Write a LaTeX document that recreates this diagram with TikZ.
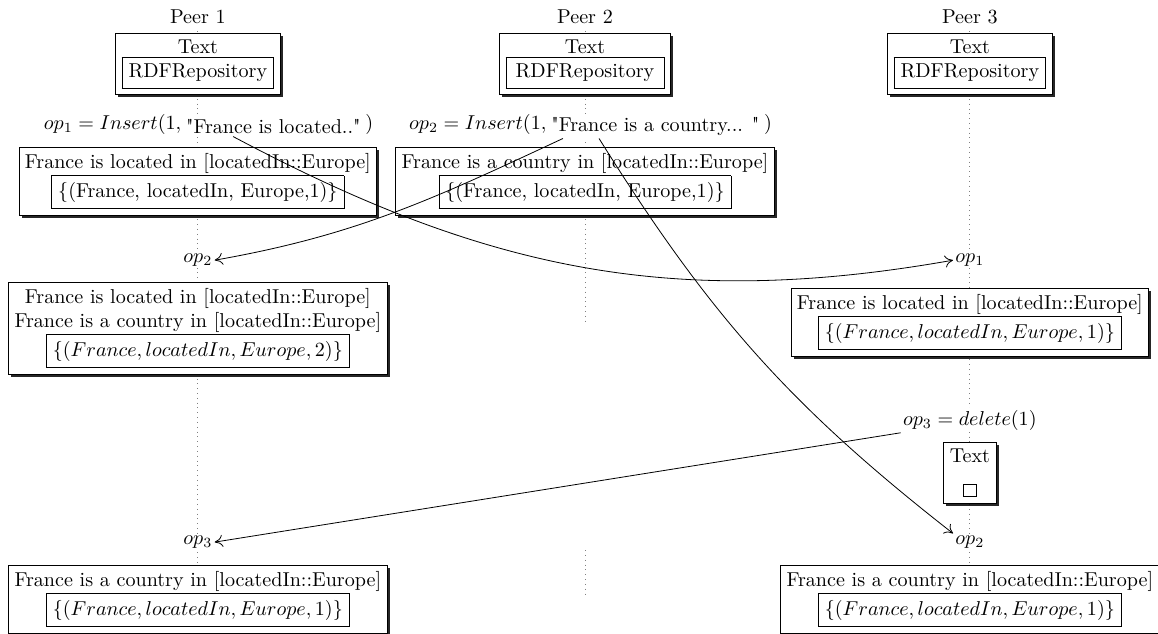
\documentclass[tikz,border=0pt]{standalone}
\usetikzlibrary{arrows.meta,positioning,shadows}

\begin{document}
\begin{tikzpicture}[>={To[length=4pt,width=6pt]},
	life/.style={dotted, gray},
	peerbox/.style={draw, fill=white, align=center, inner sep=3pt,
		drop shadow={fill=black, opacity=0.85, shadow xshift=1.3pt, shadow yshift=-1.3pt}},
	oplabel/.style={fill=white, inner sep=1pt}]
	\useasboundingbox (0,0) rectangle (20.25,-11.08);
	% peers and lifelines
	\node (P1) at (3.46,-0.3) {Peer 1};
	\node (P2) at (10.23,-0.3) {Peer 2};
	\node (P3) at (16.96,-0.3) {Peer 3};
	\coordinate (E1) at (3.46,-9.9);
	\coordinate (E2) at (10.23,-5.69);
	\coordinate (F2a) at (10.23,-9.62);
	\coordinate (F2b) at (10.23,-10.44);
	\coordinate (E3) at (16.96,-9.9);
	\draw[life] (P1) -- (E1);
	\draw[life] (P2) -- (E2);
	\draw[life] (F2a) -- (F2b);
	\draw[life] (P3) -- (E3);
	% repositories
	\node[peerbox] (R1) at (3.46,-1.12) {Text\\ \fbox{RDFRepository}};
	\node[peerbox] (R2) at (10.23,-1.12) {Text\\ \fbox{\,RDFRepository\,}};
	\node[peerbox] (R3) at (16.96,-1.12) {Text\\ \fbox{RDFRepository}};
	% local inserts
	\node[oplabel] (q1) at (4.78,-2.22) {\textquotedbl France is located..\textquotedbl};
	\node[oplabel, left=0pt of q1, yshift=1pt] (i1) {$op_1 = Insert(1,$};
	\node[oplabel, right=0pt of q1, yshift=1pt] (c1) {$)$};
	\node[oplabel] (q2) at (11.46,-2.22) {\textquotedbl France is a country... \textquotedbl};
	\node[oplabel, left=0pt of q2, yshift=1pt] (i2) {$op_2 = Insert(1,$};
	\node[oplabel, right=0pt of q2, yshift=1pt] (c2) {$)$};
	\node[peerbox] (B1) at (3.46,-3.17) {France is located in [locatedIn::Europe]\\ \fbox{\{(France, locatedIn, Europe,1)\}}};
	\node[peerbox] (B2) at (10.23,-3.17) {France is a country in [locatedIn::Europe]\\ \fbox{\{(France, locatedIn, Europe,1)\}}};
	% remote inserts
	\node[oplabel] (o2a) at (3.46,-4.55) {$op_2$};
	\node[oplabel] (o1c) at (16.96,-4.55) {$op_1$};
	\node[peerbox] (B3) at (3.46,-5.74) {France is located in [locatedIn::Europe]\\ France is a country in [locatedIn::Europe]\\ \fbox{$\{(France, locatedIn, Europe, 2)\}$}};
	\node[peerbox] (B4) at (16.96,-5.63) {France is located in [locatedIn::Europe]\\ \fbox{$\{(France, locatedIn, Europe, 1)\}$}};
	% delete at peer 3
	\node[oplabel] (d3) at (16.96,-7.35) {$op_3 = delete(1)$};
	\node[peerbox] (T3) at (16.96,-8.27) {Text\\[2pt] \fbox{}};
	\node[oplabel] (o3a) at (3.46,-9.48) {$op_3$};
	\node[oplabel] (o2c) at (16.96,-9.48) {$op_2$};
	\node[peerbox] (B5) at (3.46,-10.48) {France is a country in [locatedIn::Europe]\\ \fbox{$\{(France, locatedIn, Europe, 1)\}$}};
	\node[peerbox] (B6) at (16.96,-10.48) {France is a country in [locatedIn::Europe]\\ \fbox{$\{(France, locatedIn, Europe, 1)\}$}};
	% messages
	\draw[->] ([xshift=-20pt]q1.south) to[out=-28, in=190] (o1c.west);
	\draw[->] ([xshift=-46pt]q2.south) to[out=205, in=10] (o2a.east);
	\draw[->] ([xshift=-28pt]q2.south) to[out=-58, in=142] (o2c.north west);
	\draw[->] (d3.south west) -- (o3a.east);
\end{tikzpicture}
\end{document}
